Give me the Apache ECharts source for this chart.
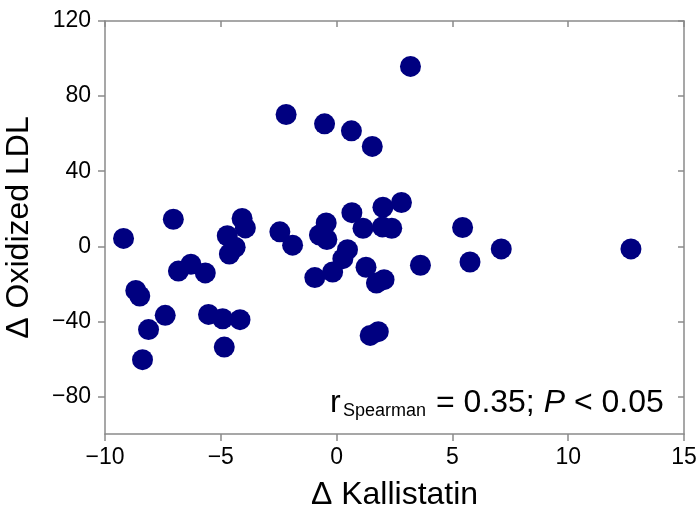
<!DOCTYPE html>
<html>
<head>
<meta charset="utf-8">
<script src="https://cdn.jsdelivr.net/npm/echarts@6/dist/echarts.min.js"></script>
<style>
    html, body { margin: 0; padding: 0; background: #fff; }
    #chart { width: 699px; height: 511px; }
</style>
</head>
<body>
<div id="chart"></div>
<script>
    // Δ Kallistatin values (x)
    let kallistatin = [
        -9.2, -7.05, -6.83, -6.29, -5.67, -8.67, -8.5, -7.4, -8.12, -8.38,
        -5.53, -4.92, -4.17, -4.85, -4.72, -4.08, -3.94, -4.38, -4.63, -2.18,
        -2.45, -1.9, -0.74, -0.45, -0.42, -0.52, 0.64, 1.54, 3.19, 0.66,
        1.14, 2.0, 1.98, 2.38, 2.8, 0.47, 0.27, -0.17, -0.94, 1.27,
        1.72, 2.05, 1.45, 1.8, 3.62, 5.44, 5.76, 7.11, 12.71
    ];
    // Δ Oxidized LDL values (y)
    let oxLDL = [
        4.2, 14.4, -13.2, -9.6, -14.2, -23.5, -26.5, -36.8, -44.4, -60.4,
        -36.3, -38.6, -39.1, -53.7, 5.6, 14.8, 9.8, -0.5, -4.1, 70.2,
        7.7, 0.6, 6.0, 12.4, 3.6, 65.2, 61.5, 53.2, 95.8, 17.9,
        9.6, 20.8, 10.3, 9.6, 23.3, -1.8, -6.6, -13.7, -16.7, -11.2,
        -19.6, -17.8, -47.5, -45.5, -10.1, 10.0, -8.4, -1.4, -1.4
    ];
    let xTicks = [-10, -5, 0, 5, 10, 15];
    let yTicks = [-80, -40, 0, 40, 80, 120];

    let points = kallistatin.map((x, i) => [x, oxLDL[i]]);

    let axisGray = '#8a8a8a';
    let fontFam = 'Liberation Sans, Arial, sans-serif';
    let minus = v => String(v).replace('-', '\u2212');

    let chart = echarts.init(document.getElementById('chart'));
    let option = {
        animation: false,
        grid: { left: 105, right: 15, top: 21, bottom: 77, containLabel: false, outerBoundsMode: 'none' },
        xAxis: [
            {
                type: 'value', min: -10, max: 15, interval: 5, position: 'bottom',
                name: '\u0394 Kallistatin', nameLocation: 'middle', nameGap: 45,
                nameTextStyle: { fontSize: 32, color: '#000', fontFamily: fontFam },
                axisLine: { show: true, onZero: false, lineStyle: { color: axisGray, width: 1.5 } },
                axisTick: { show: true, length: 7, lineStyle: { color: axisGray, width: 1.5 } },
                axisLabel: { fontSize: 23, color: '#000', fontFamily: fontFam, margin: 12, formatter: minus },
                splitLine: { show: false }
            },
            {
                type: 'value', min: -10, max: 15, interval: 5, position: 'top',
                axisLine: { show: true, onZero: false, lineStyle: { color: axisGray, width: 1.5 } },
                axisTick: { show: true, inside: true, length: 6, lineStyle: { color: axisGray, width: 1.5 } },
                axisLabel: { show: false },
                splitLine: { show: false }
            }
        ],
        yAxis: [
            {
                type: 'value', min: -100, max: 120, position: 'left',
                name: '\u0394 Oxidized LDL', nameLocation: 'middle', nameGap: 70,
                nameTextStyle: { fontSize: 32, color: '#000', fontFamily: fontFam },
                axisLine: { show: true, onZero: false, lineStyle: { color: axisGray, width: 1.5 } },
                axisTick: { show: true, length: 7, customValues: yTicks, lineStyle: { color: axisGray, width: 1.5 } },
                axisLabel: { fontSize: 23, color: '#000', fontFamily: fontFam, margin: 14, customValues: yTicks, formatter: minus },
                splitLine: { show: false }
            },
            {
                type: 'value', min: -100, max: 120, position: 'right',
                axisLine: { show: true, onZero: false, lineStyle: { color: axisGray, width: 1.5 } },
                axisTick: { show: true, inside: true, length: 6, customValues: yTicks, lineStyle: { color: axisGray, width: 1.5 } },
                axisLabel: { show: false },
                splitLine: { show: false }
            }
        ],
        graphic: [
            {
                type: 'text', left: 330, top: 387,
                style: { text: 'r', fontSize: 32, fill: '#000', fontFamily: fontFam }
            },
            {
                type: 'text', left: 343, top: 402,
                style: { text: 'Spearman', fontSize: 18, fill: '#000', fontFamily: fontFam }
            },
            {
                type: 'text', left: 436, top: 387,
                style: {
                    text: '= 0.35; {i|P} < 0.05',
                    fontSize: 32, fill: '#000', fontFamily: fontFam,
                    rich: { i: { fontSize: 32, fontStyle: 'italic', fontFamily: fontFam, fill: '#000' } }
                }
            }
        ],
        series: [{
            type: 'scatter',
            xAxisIndex: 0,
            yAxisIndex: 0,
            data: points,
            symbol: 'circle',
            symbolSize: 21,
            itemStyle: { color: '#000080', opacity: 1 }
        }]
    };
    chart.setOption(option);
</script>
</body>
</html>
